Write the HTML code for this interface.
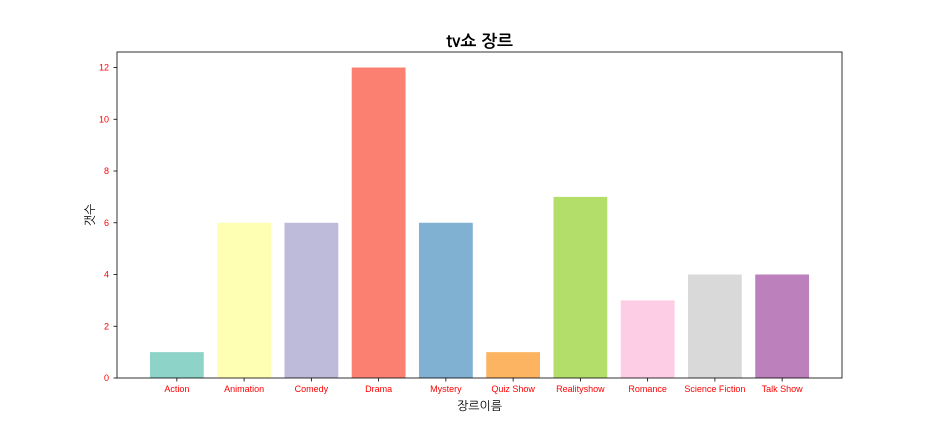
<!DOCTYPE html>
<html><head><meta charset="utf-8"><style>
html,body{margin:0;padding:0;background:#fff;}
svg{display:block;font-family:"Liberation Sans","NanumGothic",sans-serif;}
</style></head><body>
<svg id="chart" width="936" height="432">
<text x="479.5" y="47" text-anchor="middle" font-size="17" font-weight="bold" font-family="NanumGothic, sans-serif">tv쇼 장르</text>
<g id="bars"></g>
<rect x="117" y="52" width="725" height="326" fill="none" stroke="#000" stroke-width="0.8"/>
<g id="axes"></g>
<text x="479.5" y="410" text-anchor="middle" font-size="12" font-family="NanumGothic, sans-serif">장르이름</text>
<text transform="translate(94,215) rotate(-90)" text-anchor="middle" font-size="12" font-family="NanumGothic, sans-serif">갯수</text>
</svg>
<script>
const categories=["Action","Animation","Comedy","Drama","Mystery","Quiz Show","Realityshow","Romance","Science Fiction","Talk Show"];
const counts=[1,6,6,12,6,1,7,3,4,4];
const colors=["#8dd3c7","#ffffb3","#bebada","#fb8072","#80b1d3","#fdb462","#b3de69","#fccde5","#d9d9d9","#bc80bd"];
const yTicks=[0,2,4,6,8,10,12];
const NS="http://www.w3.org/2000/svg";
const L=117,R=842,T=52,B=378;
const xmin=-0.89,xmax=9.89,ymax=12.6;
function xs(v){return L+(v-xmin)/(xmax-xmin)*(R-L);}
function ys(v){return B-v/ymax*(B-T);}
const bars=document.getElementById('bars'),axes=document.getElementById('axes');
categories.forEach((c,i)=>{
  const r=document.createElementNS(NS,'rect');
  const x0=xs(i-0.4),x1=xs(i+0.4);
  r.setAttribute('x',x0);r.setAttribute('width',x1-x0);
  r.setAttribute('y',ys(counts[i]));r.setAttribute('height',ys(0)-ys(counts[i]));
  r.setAttribute('fill',colors[i]);
  
  
  bars.appendChild(r);
  const t=document.createElementNS(NS,'line');
  t.setAttribute('x1',xs(i));t.setAttribute('x2',xs(i));t.setAttribute('y1',B);t.setAttribute('y2',B+3.5);t.setAttribute('stroke','#000');t.setAttribute('stroke-width','0.8');
  
  
  axes.appendChild(t);
  const l=document.createElementNS(NS,'text');
  l.setAttribute('x',xs(i));l.setAttribute('y',B+14);l.setAttribute('text-anchor','middle');l.setAttribute('font-size','9');l.setAttribute('fill','red');
  l.textContent=c;
  
  
  axes.appendChild(l);
});
yTicks.forEach(v=>{
  const t=document.createElementNS(NS,'line');
  t.setAttribute('x1',L-3.5);t.setAttribute('x2',L);t.setAttribute('y1',ys(v));t.setAttribute('y2',ys(v));t.setAttribute('stroke','#000');t.setAttribute('stroke-width','0.8');
  
  
  axes.appendChild(t);
  const l=document.createElementNS(NS,'text');
  l.setAttribute('x',L-8);l.setAttribute('y',ys(v)+3);l.setAttribute('text-anchor','end');l.setAttribute('font-size','9');l.setAttribute('fill','red');
  l.textContent=v;
  
  
  axes.appendChild(l);
});
</script>
</body></html>
